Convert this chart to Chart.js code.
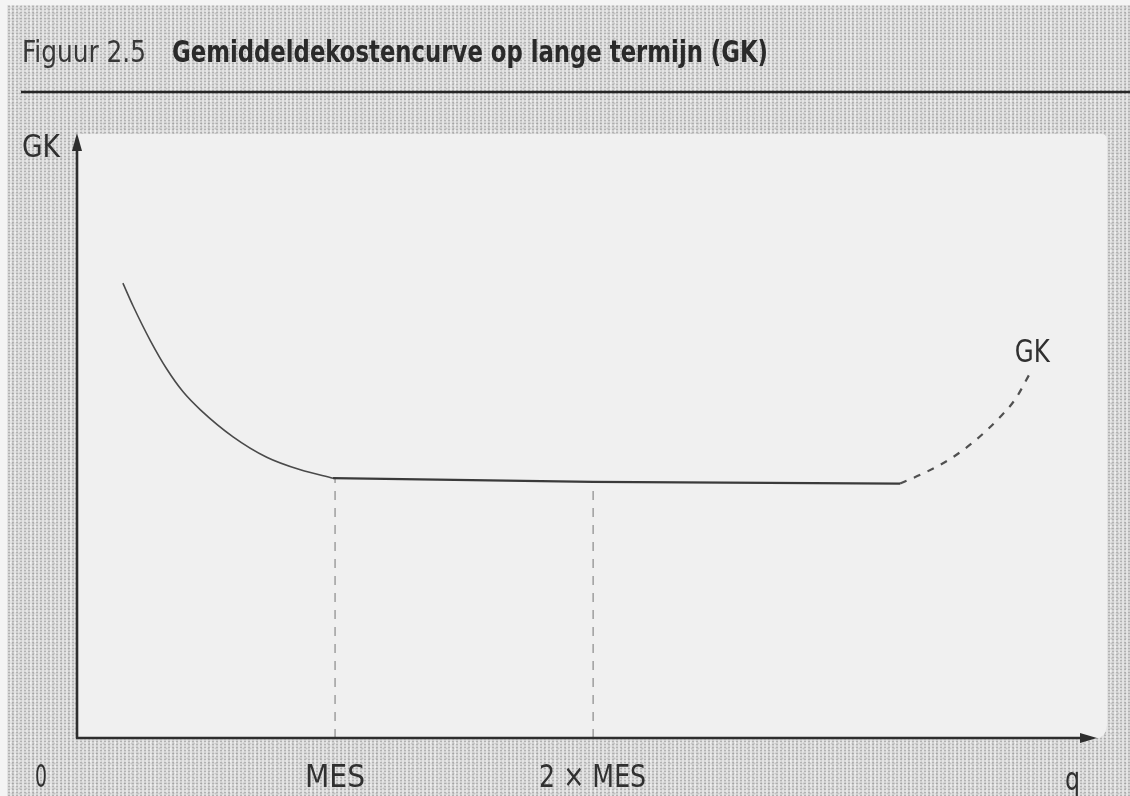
<!DOCTYPE html>
<html>
<head>
<meta charset="utf-8">
<script src="https://cdn.jsdelivr.net/npm/chart.js@4.4.1/dist/chart.umd.min.js"></script>
<style>
  html, body { margin: 0; padding: 0; background: #f4f4f4; }
  body { width: 1130px; height: 796px; overflow: hidden; position: relative; }
  #paper {
    position: absolute; left: 7px; top: 5px; right: 0; bottom: 0;
    background-color: #e3e3e3;
    background-image:
      radial-gradient(circle, rgba(130,130,130,0.5) 0.8px, transparent 1.3px),
      radial-gradient(circle, rgba(160,160,160,0.45) 0.7px, transparent 1.2px),
      radial-gradient(circle, rgba(250,250,250,0.6) 0.8px, transparent 1.3px);
    background-size: 4px 3px, 7px 5px, 5px 6px;
    background-position: 0 0, 2px 1px, 1px 3px;
  }
  #wrap { position: absolute; left: 0; top: 0; width: 1130px; height: 796px; }
</style>
</head>
<body>
<div id="paper"></div>
<div id="wrap"><canvas id="c" width="1130" height="796"></canvas></div>
<script>
// ---- data (x in units of q, y in units of GK) ----
const fallX = [0.45, 0.55, 0.72, 0.88, 1.04, 1.21, 1.53, 1.86, 2.19, 2.51];
const fallY = [7.58, 7.20, 6.62, 6.15, 5.77, 5.47, 5.02, 4.68, 4.47, 4.33];
const flatX = [2.51, 5.06, 8.07];
const flatY = [4.33, 4.27, 4.24];
const riseX = [8.07, 8.31, 8.56, 8.80, 9.05, 9.20, 9.34];
const riseY = [4.24, 4.42, 4.65, 4.95, 5.35, 5.65, 6.07];
const mesX = 2.53;
const twoMesX = 5.06;
const xTickValues = [0, mesX, twoMesX, 10];
const xTickLabels = ['0', 'MES', '2 \u00d7 MES', 'q'];
const yAxisLabel = 'GK';
const curveLabel = 'GK';
const titleNumber = 'Figuur 2.5';
const titleText = 'Gemiddeldekostencurve op lange termijn (GK)';

const pts = (xs, ys) => xs.map((x, i) => ({ x: x, y: ys[i] }));
const levelAt = (x) => {
  for (let i = 0; i < flatX.length - 1; i++) {
    if (x >= flatX[i] && x <= flatX[i + 1]) {
      const t = (x - flatX[i]) / (flatX[i + 1] - flatX[i]);
      return flatY[i] + t * (flatY[i + 1] - flatY[i]);
    }
  }
  return flatY[0];
};

const FONT = '"DejaVu Sans Condensed", "Liberation Sans Narrow", "Liberation Sans", sans-serif';
const INK = '#303030';

function fitText(ctx, text, x, baseline, width, font, color) {
  ctx.save();
  ctx.font = font;
  ctx.fillStyle = color;
  ctx.textBaseline = 'alphabetic';
  ctx.textAlign = 'left';
  const w = ctx.measureText(text).width;
  ctx.translate(x, baseline);
  ctx.scale(width / w, 1);
  ctx.fillText(text, 0, 0);
  ctx.restore();
}

const decor = {
  id: 'decor',
  beforeDraw(chart) {
    const ctx = chart.ctx;
    const xs = chart.scales.x, ys = chart.scales.y;
    const x0 = xs.getPixelForValue(0);
    const y0 = ys.getPixelForValue(0);
    // light drawing panel
    ctx.save();
    ctx.fillStyle = '#f0f0f0';
    ctx.beginPath();
    ctx.moveTo(x0, 134);
    ctx.lineTo(1102, 134);
    ctx.quadraticCurveTo(1107, 134, 1107, 140);
    ctx.lineTo(1107, 722);
    ctx.quadraticCurveTo(1107, y0, 1096, y0);
    ctx.lineTo(x0, y0);
    ctx.closePath();
    ctx.fill();
    ctx.restore();
    // title
    fitText(ctx, titleNumber, 22, 62, 124, '31px ' + FONT, '#383838');
    fitText(ctx, titleText, 172, 62, 596, 'bold 31px ' + FONT, '#2a2a2a');
    // rule under title
    ctx.save();
    ctx.strokeStyle = '#262626';
    ctx.lineWidth = 2.5;
    ctx.beginPath();
    ctx.moveTo(21, 92);
    ctx.lineTo(1130, 92);
    ctx.stroke();
    ctx.restore();
  },
  afterDatasetsDraw(chart) {
    const ctx = chart.ctx;
    const xs = chart.scales.x, ys = chart.scales.y;
    const x0 = xs.getPixelForValue(0);
    const y0 = ys.getPixelForValue(0);
    const xEnd = xs.getPixelForValue(10);
    const yTop = ys.getPixelForValue(10);
    ctx.save();
    ctx.strokeStyle = '#2e2e2e';
    ctx.fillStyle = '#2e2e2e';
    ctx.lineWidth = 2.6;
    // y axis
    ctx.beginPath();
    ctx.moveTo(x0, y0);
    ctx.lineTo(x0, yTop + 10);
    ctx.stroke();
    ctx.beginPath();
    ctx.moveTo(x0, yTop - 5);
    ctx.lineTo(x0 - 5, yTop + 13);
    ctx.lineTo(x0 + 5, yTop + 13);
    ctx.closePath();
    ctx.fill();
    // x axis
    ctx.beginPath();
    ctx.moveTo(x0 - 1, y0);
    ctx.lineTo(xEnd - 10, y0);
    ctx.stroke();
    ctx.beginPath();
    ctx.moveTo(xEnd, y0);
    ctx.lineTo(xEnd - 17, y0 - 5);
    ctx.lineTo(xEnd - 17, y0 + 5);
    ctx.closePath();
    ctx.fill();
    ctx.restore();

    // axis labels
    fitText(ctx, yAxisLabel, 22, yTop + 19, 38, '32px ' + FONT, INK);
    const lab = [
      { dx: -42, w: 12, by: 787 },
      { dx: -30, w: 60, by: 787 },
      { dx: -54, w: 107, by: 787 },
      { dx: -32, w: 15, by: 790 }
    ];
    xTickLabels.forEach((t, i) => {
      const px = xs.getPixelForValue(xTickValues[i]);
      fitText(ctx, t, px + lab[i].dx, lab[i].by, lab[i].w, '32px ' + FONT, INK);
    });
    // curve label
    const lx = xs.getPixelForValue(riseX[riseX.length - 1]);
    const ly = ys.getPixelForValue(riseY[riseY.length - 1]);
    fitText(ctx, curveLabel, lx - 15, ly - 12, 35, '32px ' + FONT, INK);
  }
};

new Chart(document.getElementById('c'), {
  type: 'scatter',
  data: {
    datasets: [
      { data: pts(fallX, fallY), showLine: true, borderColor: '#4a4a4a', borderWidth: 1.6,
        pointRadius: 0, cubicInterpolationMode: 'monotone' },
      { data: pts(flatX, flatY), showLine: true, borderColor: '#3a3a3a', borderWidth: 2.2,
        pointRadius: 0 },
      { data: pts(riseX, riseY), showLine: true, borderColor: '#505050', borderWidth: 2.2,
        borderDash: [7, 8], pointRadius: 0, cubicInterpolationMode: 'monotone' },
      { data: [{ x: mesX, y: 0 }, { x: mesX, y: levelAt(mesX) }], showLine: true,
        borderColor: '#8a8a8a', borderWidth: 1.2, borderDash: [9, 8], pointRadius: 0 },
      { data: [{ x: twoMesX, y: 0 }, { x: twoMesX, y: levelAt(twoMesX) }], showLine: true,
        borderColor: '#8a8a8a', borderWidth: 1.2, borderDash: [9, 8], pointRadius: 0 }
    ]
  },
  options: {
    responsive: false,
    animation: false,
    layout: { padding: { left: 77, right: 33, top: 138, bottom: 58 } },
    plugins: { legend: { display: false }, tooltip: { enabled: false }, title: { display: false } },
    scales: {
      x: { type: 'linear', min: 0, max: 10, display: false },
      y: { type: 'linear', min: 0, max: 10, display: false }
    }
  },
  plugins: [decor]
});
</script>
</body>
</html>
